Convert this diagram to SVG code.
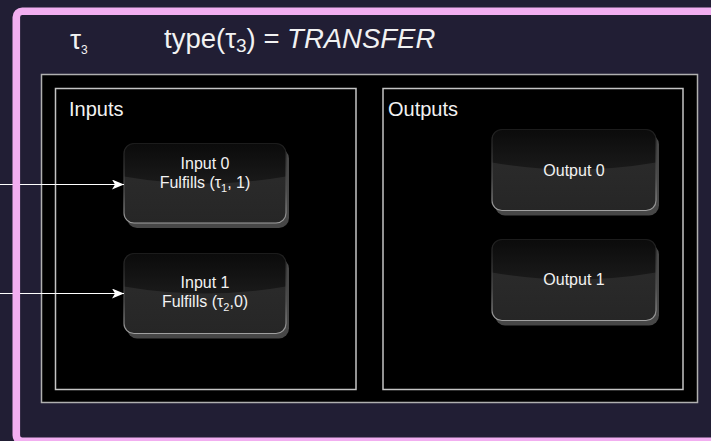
<svg xmlns="http://www.w3.org/2000/svg" width="711" height="441" viewBox="0 0 711 441">
<style>
  .t { font-family: "Liberation Sans", Arial, Helvetica, sans-serif; fill: #f2f2f2; }
  .node-t { font-size: 16px; text-anchor: middle; }
  .lbl { font-size: 20px; }
  .cont { fill: #000; stroke: #c4c4c4; stroke-width: 1.5; }
  .shadow { fill: #474747; }
  .body { fill: url(#bodyGrad); }
  .gloss { fill: url(#glossGrad); }
  .rim { fill: none; stroke: url(#rimGrad); stroke-width: 1.2; }
  .conn { stroke: #ffffff; stroke-width: 1.2; fill: none; }
</style>
<defs>
  <linearGradient id="bodyGrad" x1="0" y1="0" x2="0" y2="1">
    <stop offset="0" stop-color="#222"/>
    <stop offset="0.45" stop-color="#2a2a2a"/>
    <stop offset="1" stop-color="#262626"/>
  </linearGradient>
  <linearGradient id="glossGrad" x1="0" y1="0" x2="0" y2="1">
    <stop offset="0" stop-color="#0b0b0b"/>
    <stop offset="1" stop-color="#1a1a1a"/>
  </linearGradient>
  <linearGradient id="rimGrad" x1="0" y1="0" x2="0" y2="1">
    <stop offset="0" stop-color="#1c1c1c"/>
    <stop offset="0.6" stop-color="#555"/>
    <stop offset="1" stop-color="#a0a0a0"/>
  </linearGradient>
  <marker id="arr" markerWidth="12" markerHeight="10" refX="12" refY="5" orient="auto" markerUnits="userSpaceOnUse">
    <path d="M0,0 L12,5 L0,10 L3,5 Z" fill="#fff"/>
  </marker>
</defs>

<rect x="0" y="0" width="711" height="441" fill="#211e34"/>

<g id="header">
  <text class="t" x="70" y="49" font-size="28">τ<tspan font-size="12" dy="5">3</tspan></text>
  <text class="t" x="164" y="48" font-size="27.5">type(τ<tspan font-size="19" dy="4">3</tspan><tspan dy="-4">) = </tspan><tspan font-style="italic">TRANSFER</tspan></text>
</g>

<g id="outer">
  <rect x="41.5" y="74.5" width="656" height="328" fill="#000" stroke="#b0b0b0" stroke-width="1.5"/>
</g>

<g id="inputs">
  <rect class="cont" x="55.5" y="88.5" width="300.5" height="301"/>
  <text class="t lbl" x="69" y="116">Inputs</text>
</g>

<g id="outputs">
  <rect class="cont" x="383" y="88.5" width="300" height="301"/>
  <text class="t lbl" x="388" y="116">Outputs</text>
</g>

<g id="input0">
  <rect class="shadow" x="127" y="148.5" width="162" height="79.5" rx="10"/>
  <rect class="body" x="124" y="143.5" width="162" height="79.5" rx="10"/>
  <path class="gloss" d="M124,176.5 L124,153.5 Q124,143.5 134,143.5 L276,143.5 Q286,143.5 286,153.5 L286,176.5 Q205,190.5 124,176.5 Z"/>
  <rect class="rim" x="124" y="143.5" width="162" height="79.5" rx="10"/>
  <text class="t node-t" x="205" y="169">Input 0</text>
  <text class="t node-t" x="205" y="188">Fulfills (τ<tspan font-size="11" dy="4">1</tspan><tspan dy="-4">, 1)</tspan></text>
</g>

<g id="input1">
  <rect class="shadow" x="127" y="258.5" width="162" height="80" rx="10"/>
  <rect class="body" x="124" y="253.5" width="162" height="80" rx="10"/>
  <path class="gloss" d="M124,286.5 L124,263.5 Q124,253.5 134,253.5 L276,253.5 Q286,253.5 286,263.5 L286,286.5 Q205,300.5 124,286.5 Z"/>
  <rect class="rim" x="124" y="253.5" width="162" height="80" rx="10"/>
  <text class="t node-t" x="205" y="288">Input 1</text>
  <text class="t node-t" x="205" y="307">Fulfills (τ<tspan font-size="11" dy="4">2</tspan><tspan dy="-4">,0)</tspan></text>
</g>

<g id="output0">
  <rect class="shadow" x="495" y="134.5" width="164" height="81" rx="10"/>
  <rect class="body" x="492" y="129.5" width="164" height="81" rx="10"/>
  <path class="gloss" d="M492,162.5 L492,139.5 Q492,129.5 502,129.5 L646,129.5 Q656,129.5 656,139.5 L656,162.5 Q574,176.5 492,162.5 Z"/>
  <rect class="rim" x="492" y="129.5" width="164" height="81" rx="10"/>
  <text class="t node-t" x="574" y="176">Output 0</text>
</g>

<g id="output1">
  <rect class="shadow" x="495" y="244.5" width="164" height="81" rx="10"/>
  <rect class="body" x="492" y="239.5" width="164" height="81" rx="10"/>
  <path class="gloss" d="M492,272.5 L492,249.5 Q492,239.5 502,239.5 L646,239.5 Q656,239.5 656,249.5 L656,272.5 Q574,286.5 492,272.5 Z"/>
  <rect class="rim" x="492" y="239.5" width="164" height="81" rx="10"/>
  <text class="t node-t" x="574" y="285">Output 1</text>
</g>

<g id="connectors">
  <path class="conn" d="M0,184.5 L124,184.5" marker-end="url(#arr)"/>
  <path class="conn" d="M0,293.5 L124,293.5" marker-end="url(#arr)"/>
</g>

<g id="frame">
  <rect x="16.3" y="11.3" width="720" height="430" rx="6" fill="none" stroke="#f2aef0" stroke-width="7.6"/>
</g>
</svg>
